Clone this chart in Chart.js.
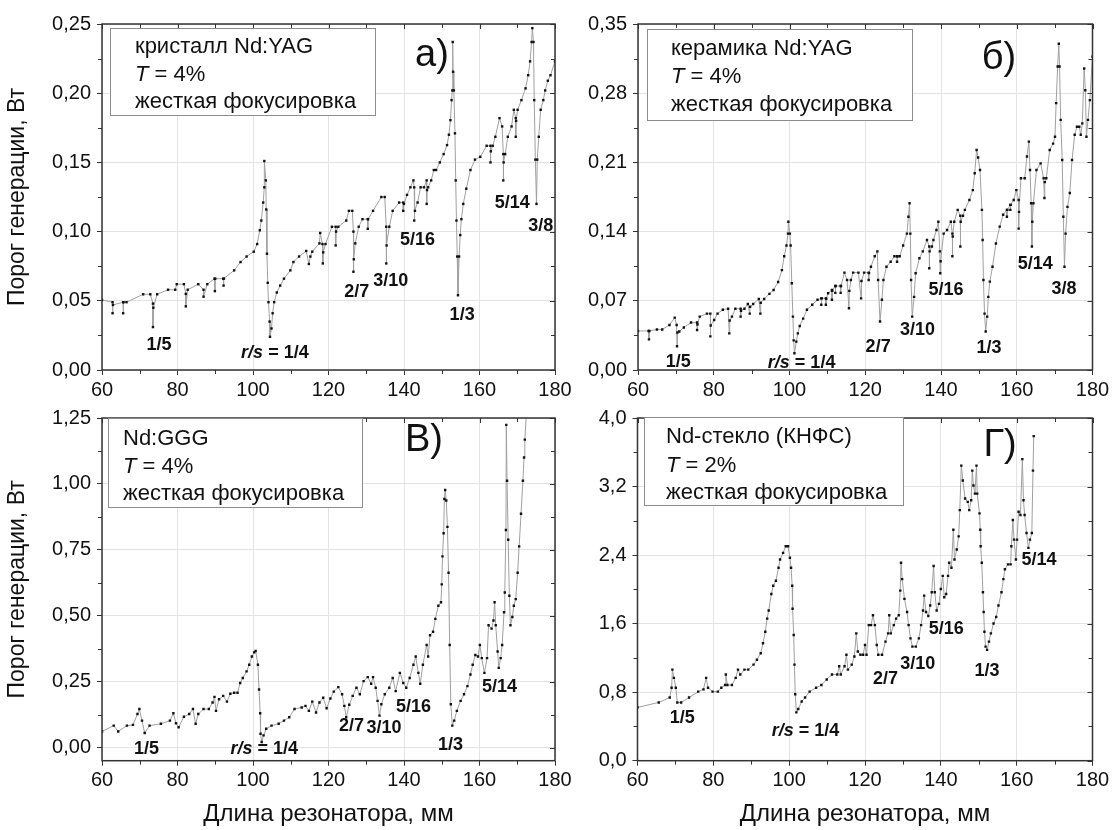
<!DOCTYPE html>
<html>
<head>
<meta charset="utf-8">
<script src="https://cdn.jsdelivr.net/npm/chart.js@4.4.1/dist/chart.umd.min.js"></script>
<style>
  body { margin: 0; background: #fff; width: 1115px; height: 830px; position: relative; overflow: hidden; }
  canvas { position: absolute; }
</style>
</head>
<body>
<canvas id="pa" width="575" height="400" style="left:0;top:0"></canvas>
<canvas id="pb" width="560" height="400" style="left:555px;top:0"></canvas>
<canvas id="pv" width="575" height="430" style="left:0;top:400px"></canvas>
<canvas id="pg" width="560" height="430" style="left:555px;top:400px"></canvas>
<script>
// ось X общая для всех панелей
const xTicks = [60, 80, 100, 120, 140, 160, 180];

// а) кристалл Nd:YAG
const crystalLen = [60,62.8,62.8,62.9,65.6,65.6,65.7,66.5,70.9,72.8,73.5,73.5,73.6,74.6,77.5,79.4,79.8,81.7,82.2,82.2,82.7,85.5,86.9,86.9,87.9,89.8,89.9,90,92.1,92.2,92.3,95,96.7,98.3,100.2,101.1,101.8,102.2,102.7,103,103,103.4,103.5,103.7,103.9,104.1,104.4,104.5,104.9,105.2,105.6,106.3,107.2,108.2,109.9,110.7,112.2,114.1,114.8,115.2,115.7,117.6,117.8,118.4,118.5,118.6,119.2,120.9,121.9,121.9,122,122.6,124.7,125.4,126.3,126.6,126.6,126.7,127.1,128,129,130.4,130.4,130.5,131.8,134,134.9,135.3,135.3,135.4,136.1,137,138.7,139.8,139.8,140,140.8,141.7,142.5,142.7,142.7,142.9,143.6,144.4,145.3,146,146,146.1,146.4,147.2,147.9,148.5,149.5,150.5,151.4,151.9,152.3,152.6,152.8,152.9,153,153.2,153.5,153.7,153.9,154.1,154.3,154.6,154.9,155.2,155.7,156.5,157.6,158.8,160.2,161.9,162.9,162.9,163,163.5,164.2,165.3,166,166.3,166.3,166.4,166.8,167.5,168.5,169.1,169.6,169.6,169.7,170.1,171.1,172.2,172.9,173.4,173.8,174,174.3,174.5,174.8,175.1,175.3,175.7,176.2,176.9,177.4,178.1,178.8,180];
const crystalThr = [0.0506,0.049,0.041,0.047,0.049,0.041,0.049,0.049,0.0547,0.0547,0.048,0.031,0.045,0.0547,0.058,0.058,0.062,0.062,0.055,0.046,0.058,0.062,0.058,0.053,0.062,0.066,0.057,0.066,0.066,0.061,0.066,0.072,0.078,0.082,0.0855,0.091,0.101,0.108,0.121,0.132,0.151,0.137,0.116,0.084,0.063,0.049,0.035,0.024,0.030,0.041,0.049,0.056,0.061,0.066,0.072,0.078,0.082,0.086,0.0766,0.082,0.0855,0.0915,0.099,0.091,0.077,0.085,0.091,0.1035,0.1035,0.090,0.1,0.1035,0.108,0.115,0.115,0.10,0.071,0.08,0.0915,0.1035,0.109,0.109,0.102,0.109,0.115,0.125,0.125,0.1035,0.077,0.09,0.1035,0.115,0.121,0.121,0.115,0.12,0.1265,0.132,0.137,0.132,0.108,0.115,0.121,0.132,0.132,0.137,0.120,0.13,0.132,0.137,0.1445,0.1445,0.150,0.156,0.1625,0.170,0.1805,0.195,0.202,0.237,0.2155,0.202,0.171,0.137,0.108,0.082,0.054,0.082,0.0975,0.109,0.120,0.131,0.1445,0.152,0.154,0.162,0.162,0.150,0.158,0.162,0.1685,0.182,0.176,0.156,0.137,0.15,0.156,0.1685,0.176,0.188,0.182,0.1685,0.18,0.188,0.195,0.2035,0.213,0.223,0.237,0.247,0.237,0.195,0.152,0.120,0.152,0.1685,0.188,0.195,0.202,0.209,0.213,0.223];
const crystalYTicks = [0, 0.05, 0.10, 0.15, 0.20, 0.25];
const crystalMarks = [['1/5',75.1,0.018],['r/s = 1/4',105.8,0.012],['2/7',127.5,0.056],['3/10',136.5,0.064],['5/16',143.6,0.094],['1/3',155.4,0.04],['5/14',168.7,0.121],['3/8',176.2,0.104]];

// б) керамика Nd:YAG
const ceramicLen = [60,62.8,62.9,63,65,66.4,68.3,69.7,70.2,70.3,70.4,70.9,72.1,74,75.6,75.6,75.7,76.3,78.2,79.1,79.1,79.2,80.1,81,82.4,83.8,84.1,84.2,84.8,85.7,87.1,87.1,87.2,88.1,89,89.5,89.6,90.4,91.9,92.3,92.4,93.3,94.7,95.8,97,98,98.6,99.2,99.6,99.7,100.1,100.3,100.6,100.9,101.1,101.3,101.8,102.2,102.7,103.6,104.6,106,107.4,108.4,108.4,108.5,109.6,109.6,109.7,110.2,111.2,111.2,111.3,112.1,112.1,112.2,113.5,113.5,113.6,114.5,115.2,115.7,115.8,116.2,116.8,118.2,118.9,119,119.7,120.9,120.9,121,121.5,122.5,123.2,123.4,123.9,124.4,124.8,125.6,126.7,127.7,128.4,128.4,128.5,129.1,130,131,131.4,131.7,131.9,132.1,132.4,132.9,133.3,134.3,135.2,136.3,136.9,136.9,137,137.6,138,138.8,139.3,139.7,139.8,139.9,140.7,141.6,142.6,143,143,143.1,143.5,144.4,145.1,145.1,145.2,145.8,146.3,147.5,148.4,148.9,149.4,149.8,150.3,150.8,151,151.2,151.5,151.8,152.2,152.5,152.9,153.6,154.5,155.5,156.4,157.4,157.4,157.5,158.3,158.3,158.4,159.2,159.9,160.5,160.5,160.6,161.1,162.1,162.7,163.2,163.5,163.8,164,164.1,164.4,165.2,166.3,167.1,167.3,167.4,167.8,168.7,169.6,170.1,170.4,170.8,171.1,171.3,171.6,172,172.3,172.6,172.9,173.4,174,174.6,175.3,175.9,176.5,176.9,177.3,177.8,178.1,178.4,178.8,179.3,180];
const ceramicThr = [0.0395,0.0395,0.031,0.0395,0.041,0.041,0.0455,0.053,0.0455,0.024,0.038,0.039,0.043,0.048,0.048,0.0405,0.046,0.054,0.057,0.057,0.034,0.045,0.0506,0.057,0.061,0.062,0.037,0.05,0.054,0.062,0.062,0.054,0.06,0.062,0.0668,0.057,0.064,0.0668,0.0718,0.057,0.068,0.0718,0.077,0.081,0.089,0.101,0.115,0.126,0.138,0.150,0.138,0.126,0.0877,0.054,0.030,0.017,0.0287,0.037,0.0445,0.052,0.061,0.066,0.071,0.0725,0.066,0.0725,0.0725,0.066,0.072,0.0776,0.081,0.071,0.08,0.085,0.078,0.085,0.085,0.078,0.085,0.0985,0.091,0.0624,0.08,0.091,0.0985,0.0985,0.0725,0.09,0.0985,0.0985,0.091,0.098,0.1045,0.115,0.12,0.091,0.049,0.071,0.091,0.1045,0.1095,0.115,0.115,0.1095,0.115,0.115,0.126,0.138,0.155,0.1686,0.138,0.091,0.054,0.074,0.0978,0.113,0.12,0.1315,0.125,0.103,0.12,0.125,0.1315,0.1416,0.15,0.12,0.0978,0.11,0.138,0.1416,0.15,0.138,0.115,0.135,0.15,0.162,0.156,0.125,0.15,0.156,0.162,0.172,0.182,0.199,0.2225,0.215,0.2023,0.162,0.1315,0.091,0.057,0.039,0.054,0.074,0.0894,0.1045,0.128,0.145,0.157,0.162,0.155,0.162,0.167,0.162,0.167,0.172,0.182,0.172,0.143,0.16,0.194,0.194,0.216,0.231,0.2023,0.1686,0.125,0.15,0.1686,0.2023,0.209,0.194,0.174,0.19,0.194,0.2225,0.229,0.236,0.27,0.307,0.330,0.307,0.253,0.2125,0.155,0.1045,0.138,0.165,0.179,0.2125,0.238,0.246,0.246,0.238,0.2495,0.305,0.283,0.236,0.253,0.273,0.317];
const ceramicYTicks = [0, 0.07, 0.14, 0.21, 0.28, 0.35];
const ceramicMarks = [['1/5',70.6,0.0084],['r/s = 1/4',103.2,0.007],['2/7',123.4,0.0236],['3/10',133.8,0.040],['5/16',141.3,0.081],['1/3',152.7,0.022],['5/14',164.9,0.107],['3/8',172.5,0.0816]];

// в) Nd:GGG
const gggLen = [60,63.1,64.3,66.6,68.2,69.4,69.9,70.6,71.3,72.6,75.6,78,78.9,79.6,80.3,81.7,83.1,84.1,84.8,85.5,86.9,88.3,89.3,89.8,90.2,91,92.1,93.1,94,95,95.9,96.6,97.3,98.3,99,99.7,100.3,100.7,101.3,101.6,101.9,102,102.3,102.8,103.5,104.9,106.8,108.2,109.6,111,112.9,113.9,114.8,115.7,116.7,117.6,118.6,119.5,120.5,121.4,122.6,123.6,124.2,124.7,125.5,126.4,127.4,128.3,129.3,130.4,131.3,131.8,132.5,133,133.5,134,134.9,136.1,137,137.8,138.9,139.8,140.6,141.5,142.5,143.1,143.8,144.3,145,146,146.4,146.9,147.7,148.3,149.1,149.8,150,150.2,150.5,150.7,150.9,151.2,151.5,151.8,152.1,152.4,152.8,153.3,154,155,155.9,156.8,157.6,158.2,158.9,159.6,160.1,160.6,161.3,162,162.4,163.2,163.7,164,164.3,164.8,165.1,165.6,166,166.5,166.7,167,167.1,167.3,167.6,167.9,168.2,168.7,169.1,169.6,170.1,170.5,171,171.5,171.8,172,173];
const gggThr = [0.061,0.083,0.061,0.083,0.086,0.127,0.146,0.102,0.055,0.083,0.09,0.102,0.13,0.092,0.077,0.117,0.127,0.146,0.09,0.127,0.146,0.146,0.171,0.192,0.139,0.183,0.196,0.174,0.204,0.208,0.208,0.245,0.264,0.289,0.314,0.345,0.361,0.366,0.314,0.22,0.13,0.052,0.021,0.046,0.071,0.083,0.09,0.102,0.115,0.146,0.152,0.158,0.139,0.174,0.133,0.171,0.189,0.149,0.186,0.212,0.229,0.202,0.158,0.115,0.162,0.196,0.227,0.202,0.252,0.267,0.242,0.267,0.227,0.177,0.121,0.164,0.202,0.227,0.264,0.214,0.283,0.245,0.227,0.264,0.314,0.345,0.283,0.242,0.314,0.389,0.345,0.426,0.439,0.488,0.538,0.551,0.619,0.725,0.813,0.943,0.977,0.937,0.837,0.663,0.389,0.164,0.083,0.102,0.139,0.177,0.202,0.233,0.277,0.314,0.351,0.345,0.389,0.339,0.283,0.339,0.464,0.451,0.482,0.551,0.464,0.364,0.302,0.339,0.389,0.513,0.588,0.825,1.224,1.012,0.788,0.576,0.464,0.495,0.538,0.563,0.663,0.763,0.887,1.012,1.1,1.168,1.4];
const gggYTicks = [0, 0.25, 0.50, 0.75, 1.00, 1.25];
const gggMarks = [['1/5',71.8,-0.004],['r/s = 1/4',103,-0.007],['2/7',126.1,0.08],['3/10',134.7,0.075],['5/16',142.5,0.154],['1/3',152.3,0.009],['5/14',165.3,0.229]];

// г) Nd-стекло (КНФС)
const glassLen = [60,65.6,68.5,69,69.2,69.6,70.1,70.5,71.5,73.6,76,77.4,78.1,78.6,79.8,81.2,82.1,83.1,83.3,83.7,84.9,85.9,86.5,87.1,88.2,89.2,90.6,91.5,92.5,93.1,93.7,94.2,94.6,95.3,95.8,96.5,97.2,97.6,98.4,99.1,99.7,100.2,100.5,100.8,100.9,101.2,101.4,101.6,101.9,102.4,103.3,104.2,105.4,107.1,108.5,109.9,111.3,112.7,113.2,113.6,114.6,115.1,115.5,116.5,117.2,117.7,118.1,118.8,119.5,120,120.4,121,121.6,122.1,122.6,123.1,123.5,124.5,125.4,126.1,126.4,126.8,127.6,128.2,128.9,129.3,129.5,129.8,130.4,131.1,131.5,132,132.5,133.4,134.2,134.8,135.3,135.6,136.1,136.7,137.2,137.6,138.1,138.4,138.9,139.5,140,140.5,140.9,141.4,141.9,142.2,142.8,143.3,143.6,144.2,144.7,145,145.4,145.8,146.4,147.1,147.5,148,148.3,148.6,149,149.4,149.6,150.2,150.4,150.5,150.8,151.1,151.3,151.5,151.8,152.2,152.7,153.2,153.9,154.6,155.2,156,156.5,156.9,157.7,158.4,158.6,159,159.3,159.8,160.1,160.5,161,161.5,161.8,162.1,162.6,163.1,163.5,164,164.3,164.5];
const glassThr = [0.622,0.68,0.737,0.852,1.063,0.967,0.852,0.68,0.68,0.737,0.806,0.833,0.967,0.852,0.806,0.806,0.852,0.883,1.006,0.883,0.883,0.967,1.063,1.006,1.063,1.063,1.121,1.179,1.255,1.37,1.505,1.658,1.754,1.946,2.042,2.1,2.253,2.349,2.426,2.503,2.503,2.369,2.253,2.042,1.774,1.467,1.121,0.775,0.564,0.603,0.691,0.737,0.806,0.852,0.883,0.948,1.006,1.006,1.102,1.006,1.102,1.236,1.063,1.121,1.217,1.486,1.275,1.236,1.236,1.351,1.236,1.582,1.582,1.697,1.582,1.351,1.236,1.236,1.39,1.486,1.697,1.486,1.582,1.658,1.697,1.985,2.311,2.119,1.889,1.735,1.582,1.428,1.332,1.332,1.428,1.582,1.754,1.927,1.735,1.689,1.812,1.966,2.273,1.966,1.754,1.831,2.004,2.157,1.908,1.946,2.157,2.311,2.253,2.695,2.349,2.465,2.618,2.925,3.444,3.271,3.06,3.021,2.925,3.04,3.386,3.213,3.117,3.444,3.117,2.887,2.695,2.503,2.311,1.966,1.735,1.505,1.332,1.294,1.39,1.486,1.601,1.678,1.812,1.966,2.119,2.234,2.292,2.292,2.503,2.81,2.58,2.349,2.58,2.906,2.868,3.52,3.04,2.868,2.657,2.484,2.58,2.657,3.386,3.789];
const glassYTicks = [0, 0.8, 1.6, 2.4, 3.2, 4.0];
const glassMarks = [['1/5',71.8,0.5],['r/s = 1/4',104.3,0.345],['2/7',125.4,0.948],['3/10',133.9,1.127],['5/16',141.4,1.535],['1/3',152.2,1.05],['5/14',165.9,2.34]];

const FAMILY = "'Liberation Sans', Arial, sans-serif";

// рамка, малые риски, подписи, легенда
const deco = {
  id: 'deco',
  afterDatasetsDraw(chart, args, o) {
    const ctx = chart.ctx, a = chart.chartArea;
    const x = chart.scales.x, y = chart.scales.y;
    ctx.save();
    ctx.strokeStyle = '#333';
    ctx.lineWidth = 1;
    ctx.beginPath();
    for (let v = 60; v <= 180.001; v += 10) {
      const px = Math.round(x.getPixelForValue(v)) + 0.5;
      const major = Math.abs(v % 20) < 1e-6;
      ctx.moveTo(px, a.top); ctx.lineTo(px, a.top + (major ? 5 : 4));
      if (!major) { ctx.moveTo(px, a.bottom); ctx.lineTo(px, a.bottom + 4); }
    }
    const yStep = o.yMinor;
    for (let v = Math.ceil(y.min / yStep - 1e-6) * yStep; v <= y.max + 1e-6; v += yStep) {
      const py = Math.round(y.getPixelForValue(v)) + 0.5;
      const major = Math.abs(v / (2 * yStep) - Math.round(v / (2 * yStep))) < 1e-6;
      ctx.moveTo(a.right, py); ctx.lineTo(a.right - (major ? 5 : 4), py);
      if (!major) { ctx.moveTo(a.left, py); ctx.lineTo(a.left - 4, py); }
    }
    ctx.stroke();
    ctx.lineWidth = 1.5;
    ctx.strokeRect(a.left, a.top, a.right - a.left, a.bottom - a.top);

    // подписи резонансов
    ctx.fillStyle = '#111';
    ctx.textBaseline = 'middle';
    ctx.textAlign = 'left';
    o.marks.forEach(([txt, mx, my]) => {
      const px = x.getPixelForValue(mx), py = y.getPixelForValue(my);
      const segs = txt.startsWith('r/s') ? [['r/s', true], [txt.slice(3), false]] : [[txt, false]];
      let w = 0;
      segs.forEach(s => { ctx.font = (s[1] ? 'italic ' : '') + 'bold 18px ' + FAMILY; w += ctx.measureText(s[0]).width; });
      let cx = px - w / 2;
      segs.forEach(s => { ctx.font = (s[1] ? 'italic ' : '') + 'bold 18px ' + FAMILY; ctx.fillText(s[0], cx, py); cx += ctx.measureText(s[0]).width; });
    });

    // легенда
    const b = o.box;
    ctx.fillStyle = '#fff';
    ctx.fillRect(b.x, b.y, b.w, b.h);
    ctx.strokeStyle = '#8c8c8c';
    ctx.lineWidth = 1;
    ctx.strokeRect(b.x + 0.5, b.y + 0.5, b.w, b.h);
    ctx.fillStyle = '#111';
    ctx.textBaseline = 'alphabetic';
    o.lines.forEach((segs, i) => {
      let cx = b.tx;
      segs.forEach(s => {
        ctx.font = (s[1] ? 'italic ' : '') + '22px ' + FAMILY;
        ctx.fillText(s[0], cx, b.ty[i]);
        cx += ctx.measureText(s[0]).width;
      });
    });

    // буква панели
    ctx.font = '38px ' + FAMILY;
    ctx.textAlign = 'center';
    ctx.textBaseline = 'middle';
    ctx.fillText(o.letter, o.lx, o.ly);
    ctx.restore();
  }
};

function panel(id, lens, thrs, o) {
  const pts = lens.map((v, i) => ({x: v, y: thrs[i]}));
  return new Chart(document.getElementById(id), {
    type: 'scatter',
    data: {
      datasets: [{
        data: pts,
        showLine: true,
        borderColor: '#a0a0a0',
        borderWidth: 1,
        pointStyle: 'rect',
        pointRadius: 1.7,
        pointBackgroundColor: '#111',
        pointBorderWidth: 0
      }]
    },
    options: {
      responsive: false,
      animation: false,
      devicePixelRatio: 1,
      layout: { padding: o.pad },
      plugins: { legend: { display: false }, tooltip: { enabled: false }, deco: o },
      scales: {
        x: {
          type: 'linear', min: 60, max: 180,
          afterBuildTicks: s => { s.ticks = xTicks.map(v => ({value: v})); },
          afterFit: s => { s.height = o.xh; },
          grid: { color: '#e3e3e3', tickColor: '#333', tickLength: 5 },
          border: { display: false },
          ticks: { color: '#111', font: { family: FAMILY, size: 20 }, padding: 3, maxRotation: 0 },
          title: { display: o.xTitle, text: 'Длина резонатора, мм', color: '#111',
                   font: { family: FAMILY, size: 24 }, padding: { top: 0, bottom: 1 } }
        },
        y: {
          type: 'linear', min: o.yMin, max: o.yMax,
          afterBuildTicks: s => { s.ticks = o.yTicks.map(v => ({value: v})); },
          afterFit: s => { s.width = o.yw; },
          grid: { color: '#e3e3e3', tickColor: '#333', tickLength: 5 },
          border: { display: false },
          ticks: { color: '#111', font: { family: FAMILY, size: 20 }, padding: 6,
                   callback: v => v.toFixed(o.dec).replace('.', ',') },
          title: { display: o.yTitle, text: 'Порог генерации, Вт', color: '#111',
                   font: { family: FAMILY, size: 23 }, padding: { top: 4, bottom: 0 } }
        }
      }
    },
    plugins: [deco]
  });
}

const t4 = [['T', true], [' = 4%', false]];

panel('pa', crystalLen, crystalThr, {
  yMin: 0, yMax: 0.25, yTicks: crystalYTicks, yMinor: 0.025, dec: 2,
  yw: 102, xh: 30, pad: { left: 0, top: 24, right: 20, bottom: 0 },
  yTitle: true, xTitle: false, marks: crystalMarks,
  box: { x: 110, y: 28, w: 265, h: 87, tx: 135, ty: [53, 81, 108] },
  lines: [[['кристалл Nd:YAG', false]], t4, [['жесткая фокусировка', false]]],
  letter: 'а)', lx: 432, ly: 56
});

panel('pb', ceramicLen, ceramicThr, {
  yMin: 0, yMax: 0.35, yTicks: ceramicYTicks, yMinor: 0.035, dec: 2,
  yw: 83, xh: 30, pad: { left: 0, top: 24, right: 22.5, bottom: 0 },
  yTitle: false, xTitle: false, marks: ceramicMarks,
  box: { x: 92, y: 29, w: 265, h: 91, tx: 116, ty: [55, 83, 111] },
  lines: [[['керамика Nd:YAG', false]], t4, [['жесткая фокусировка', false]]],
  letter: 'б)', lx: 444, ly: 59
});

panel('pv', gggLen, gggThr, {
  yMin: -0.05, yMax: 1.25, yTicks: gggYTicks, yMinor: 0.125, dec: 2,
  yw: 102, xh: 69.3, pad: { left: 0, top: 13, right: 20, bottom: 0 },
  yTitle: true, xTitle: true, marks: gggMarks,
  box: { x: 108, y: 18, w: 254, h: 89, tx: 123, ty: [45, 73, 100] },
  lines: [[['Nd:GGG', false]], t4, [['жесткая фокусировка', false]]],
  letter: 'В)', lx: 424, ly: 41
});

panel('pg', glassLen, glassThr, {
  yMin: 0, yMax: 4, yTicks: glassYTicks, yMinor: 0.4, dec: 1,
  yw: 82.5, xh: 69.3, pad: { left: 0, top: 13, right: 22.5, bottom: 0 },
  yTitle: false, xTitle: true, marks: glassMarks,
  box: { x: 89, y: 17, w: 259, h: 88, tx: 111, ty: [43, 72, 99] },
  lines: [[['Nd-стекло (КНФС)', false]], [['T', true], [' = 2%', false]], [['жесткая фокусировка', false]]],
  letter: 'Г)', lx: 445, ly: 46
});
</script>
</body>
</html>
